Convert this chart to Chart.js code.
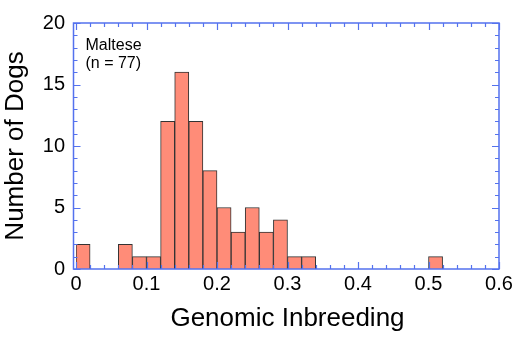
<!DOCTYPE html>
<html>
<head>
<meta charset="utf-8">
<script src="https://cdn.jsdelivr.net/npm/chart.js@4/dist/chart.umd.min.js"></script>
<style>
html,body{margin:0;padding:0;background:#fff;}
canvas{display:block;}
</style>
</head>
<body>
<canvas id="c" width="518" height="337"></canvas>
<script>
// Histogram bins (start of each non-empty bin) and counts
const binStart = [0.00, 0.06, 0.08, 0.10, 0.12, 0.14, 0.16, 0.18, 0.20, 0.22, 0.24, 0.26, 0.28, 0.30, 0.32, 0.50];
const counts   = [2,    2,    1,    1,    12,   16,   12,   8,    5,    3,    5,    3,    4,    1,    1,    1];
const binWidth = 0.02;
const xTickLabels = ['0', '0.1', '0.2', '0.3', '0.4', '0.5', '0.6'];
const yTickLabels = ['0', '5', '10', '15', '20'];
const annotationLines = ['Maltese', '(n = 77)'];

const FONT = '"Liberation Sans", Arial, Helvetica, sans-serif';
const AXIS_BLUE = '#5472EE';

const boxPlugin = {
  id: 'boxTicks',
  afterDatasetsDraw(chart) {
    const {ctx, chartArea: a, scales: {x, y}} = chart;
    const L = a.left - 2.5, R = a.right, T = a.top, B = a.bottom;
    ctx.save();
    ctx.strokeStyle = AXIS_BLUE;
    ctx.lineWidth = 1.5;
    ctx.beginPath();
    ctx.rect(L, T, R - L, B - T);
    ctx.stroke();
    ctx.lineWidth = 1.2;
    ctx.beginPath();
    // x ticks (major every 0.1, minor every 0.02)
    for (let i = 0; i <= 30; i++) {
      const v = i * 0.02;
      const px = Math.round(x.getPixelForValue(v)) + 0.5;
      const len = (i % 5 === 0) ? 7 : 4;
      ctx.moveTo(px, B); ctx.lineTo(px, B - len);
      ctx.moveTo(px, T); ctx.lineTo(px, T + len);
    }
    // y ticks (major every 5, minor every 1)
    for (let v = 0; v <= 20; v++) {
      const py = Math.round(y.getPixelForValue(v)) + 0.5;
      const len = (v % 5 === 0) ? 7 : 4;
      ctx.moveTo(L, py); ctx.lineTo(L + len, py);
      ctx.moveTo(R, py); ctx.lineTo(R - len, py);
    }
    ctx.stroke();
    // annotation
    ctx.fillStyle = '#000';
    ctx.font = '16px ' + FONT;
    ctx.textAlign = 'left';
    ctx.textBaseline = 'alphabetic';
    annotationLines.forEach((t, i) => {
      ctx.fillText(t, L + 12, T + 27 + i * 18);
    });
    ctx.restore();
  }
};

new Chart(document.getElementById('c'), {
  type: 'bar',
  data: {
    datasets: [{
      data: binStart.map((s, i) => ({x: s + binWidth / 2, y: counts[i]})),
      backgroundColor: '#FF8C78',
      borderColor: '#333333',
      borderWidth: 1,
      borderSkipped: 'bottom',
      barPercentage: 1.0,
      categoryPercentage: 1.0
    }]
  },
  options: {
    responsive: false,
    animation: false,
    layout: {padding: {top: 16, right: 19, left: 0, bottom: 0}},
    plugins: {legend: {display: false}, tooltip: {enabled: false}},
    scales: {
      x: {
        type: 'linear',
        min: 0, max: 0.6,
        offset: false,
        grid: {display: false, drawTicks: false},
        border: {display: false},
        ticks: {
          stepSize: 0.1,
          padding: 3,
          color: '#000',
          font: {family: FONT, size: 20},
          maxRotation: 0,
          callback: (v, i) => xTickLabels[i]
        },
        title: {display: true, text: 'Genomic Inbreeding', color: '#000',
                font: {family: FONT, size: 26}, padding: {top: 0, bottom: 3}},
        afterFit: s => { s.height = 68; }
      },
      y: {
        min: 0, max: 20,
        grid: {display: false, drawTicks: false},
        border: {display: false},
        ticks: {
          stepSize: 5,
          padding: 11,
          color: '#000',
          font: {family: FONT, size: 20},
          callback: (v, i) => yTickLabels[i]
        },
        title: {display: true, text: 'Number of Dogs', color: '#000',
                font: {family: FONT, size: 26}, padding: {top: 0, bottom: 0}},
        afterFit: s => { s.width = 76; }
      }
    }
  },
  plugins: [boxPlugin]
});
</script>
</body>
</html>
